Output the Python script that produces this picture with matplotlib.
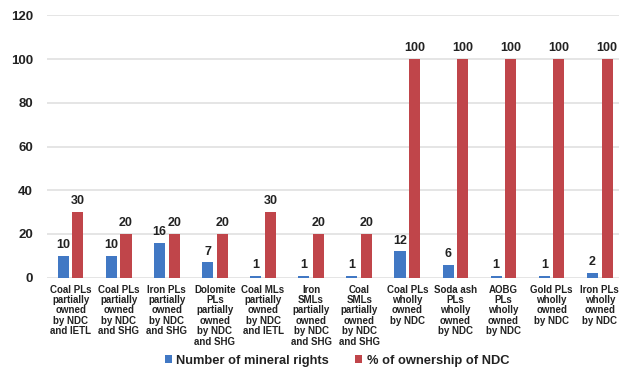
import matplotlib
matplotlib.use("Agg")
import matplotlib.pyplot as plt
import numpy as np

categories = [
    "Coal PLs\npartially\nowned\nby NDC\nand IETL",
    "Coal PLs\npartially\nowned\nby NDC\nand SHG",
    "Iron PLs\npartially\nowned\nby NDC\nand SHG",
    "Dolomite\nPLs\npartially\nowned\nby NDC\nand SHG",
    "Coal MLs\npartially\nowned\nby NDC\nand IETL",
    "Iron\nSMLs\npartially\nowned\nby NDC\nand SHG",
    "Coal\nSMLs\npartially\nowned\nby NDC\nand SHG",
    "Coal PLs\nwholly\nowned\nby NDC",
    "Soda ash\nPLs\nwholly\nowned\nby NDC",
    "AOBG\nPLs\nwholly\nowned\nby NDC",
    "Gold PLs\nwholly\nowned\nby NDC",
    "Iron PLs\nwholly\nowned\nby NDC",
]
mineral_rights = [10, 10, 16, 7, 1, 1, 1, 12, 6, 1, 1, 2]
ndc_ownership = [30, 20, 20, 20, 30, 20, 20, 100, 100, 100, 100, 100]
series_names = ["Number of mineral rights", "% of ownership of NDC"]
y_ticks = [0, 20, 40, 60, 80, 100, 120]

plt.rcParams["font.family"] = ["Liberation Sans", "DejaVu Sans"]
plt.rcParams["font.weight"] = "bold"

blue = "#4178C4"
red = "#C0454A"
text_color = "#222222"

fig = plt.figure(figsize=(6.19, 3.70), dpi=100)
ax = fig.add_axes([47 / 619, 1 - 277.7 / 370, 1 - 47 / 619, (277.7 - 15.3) / 370])

x = np.arange(len(categories))
w = 0.23
off = 0.152
b1 = ax.bar(x - off, mineral_rights, w, color=blue, label=series_names[0], zorder=3)
b2 = ax.bar(x + off, ndc_ownership, w, color=red, label=series_names[1], zorder=3)

for bars, vals in ((b1, mineral_rights), (b2, ndc_ownership)):
    for rect, v in zip(bars, vals):
        ax.annotate(str(v), (rect.get_x() + rect.get_width() / 2, v),
                    xytext=(0, 3.5), textcoords="offset points",
                    ha="center", va="bottom", fontsize=9, fontweight="bold",
                    color=text_color)

ax.set_ylim(0, 120)
ax.set_yticks(y_ticks)
ax.set_xlim(-0.49, 11.40)
ax.set_xticks(x)
ax.set_xticklabels(categories, fontsize=7, fontweight="bold", color=text_color,
                   linespacing=1.05)
ax.tick_params(axis="x", length=0, pad=5)
ax.tick_params(axis="y", length=0, pad=10, labelsize=9.5, labelcolor=text_color)
for lab in ax.get_yticklabels():
    lab.set_fontweight("bold")

ax.grid(axis="y", color="#e3e3e3", linewidth=1.3, zorder=0)
for s in ax.spines.values():
    s.set_visible(False)

fig.legend(handles=[b1, b2], loc="center", bbox_to_anchor=(337 / 619, 0.025),
           ncol=2, frameon=False, fontsize=9.3, handlelength=0.55,
           handleheight=0.55, handletextpad=0.35, columnspacing=2.0,
           prop={"weight": "bold", "size": 9.3})
for t in fig.legends[0].get_texts():
    t.set_color(text_color)

fig.savefig("out.png", dpi=100)
